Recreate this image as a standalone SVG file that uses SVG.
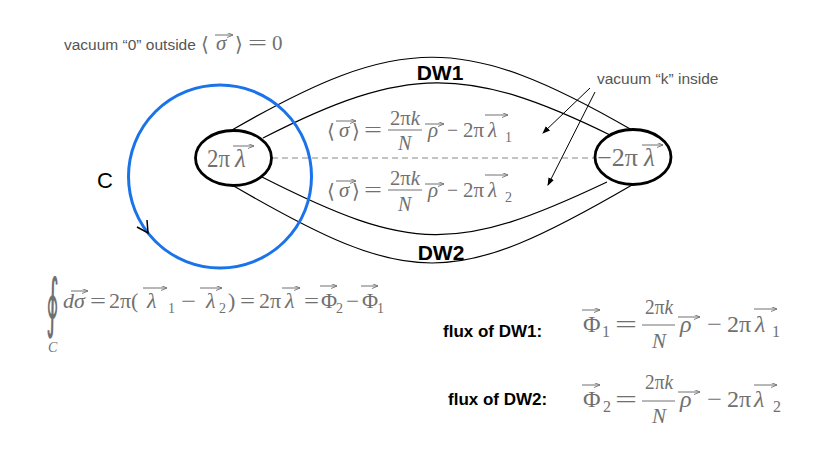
<svg xmlns="http://www.w3.org/2000/svg" width="830" height="468" viewBox="0 0 830 468">
<style>
.m{font-family:"Liberation Serif","DejaVu Serif",serif;fill:#707070;font-size:21px}
.i{font-style:italic}
.f{font-size:20px}
.s{font-size:14px}
.n25{font-size:25px}
.n22{font-size:22px}
.big{font-size:24px}
.bf{font-size:21px}
.bs{font-size:16px}
.br{font-family:"DejaVu Serif",serif;font-size:20px;fill:#707070}
.lbl{font-family:"Liberation Sans",Arial,sans-serif;fill:#555;font-size:15.5px}
.bold{font-family:"Liberation Sans",Arial,sans-serif;font-weight:bold;fill:#000}
.va{stroke:#707070;stroke-width:1;fill:none;marker-end:url(#vh)}
.bar{stroke:#707070;stroke-width:1}
.wall{fill:none;stroke:#000;stroke-width:1.2}
.node{fill:#fff;stroke:#000;stroke-width:2.8}
</style>
<defs>
<marker id="vh" markerUnits="userSpaceOnUse" markerWidth="6" markerHeight="5" refX="6" refY="2.5" orient="auto"><path d="M0,0 L6,2.5 L0,5" fill="none" stroke="#707070" stroke-width="0.9"/></marker>
<marker id="ah" markerUnits="userSpaceOnUse" markerWidth="8" markerHeight="6" refX="7" refY="3" orient="auto"><path d="M0,0 L8,3 L0,6 z" fill="#000"/></marker>
</defs>
<rect width="830" height="468" fill="#fff"/>

<g id="top-label">
<text class="lbl" x="64" y="50">vacuum “0” outside</text>
<text class="br" x="201" y="51">⟨</text>
<text class="m i" x="216" y="50">σ</text>
<line class="va" x1="215" y1="35" x2="233" y2="35"/>
<text class="br" x="235" y="51">⟩</text>
<text class="m" x="248" y="50" textLength="19" lengthAdjust="spacingAndGlyphs">=</text>
<text class="m" x="272" y="50">0</text>
</g>

<g id="connectors">
<path class="wall" d="M232 130 C400 33 464 33 632 130"/>
<path class="wall" d="M263 138 C406 65 467 65 610 135"/>
<path class="wall" d="M262 177 C412 253 457 253 607 182"/>
<path class="wall" d="M232 185 C411 289 453 289 632 185"/>
<line x1="272" y1="158" x2="595" y2="158" stroke="#888" stroke-width="1" stroke-dasharray="6 4"/>
<line x1="590" y1="88" x2="543" y2="133" stroke="#000" stroke-width="1" marker-end="url(#ah)"/>
<line x1="595" y1="92" x2="548" y2="185" stroke="#000" stroke-width="1" marker-end="url(#ah)"/>
</g>

<g id="dw-labels">
<text class="bold" x="440" y="80" font-size="21" text-anchor="middle">DW1</text>
<text class="bold" x="441" y="260" font-size="21" text-anchor="middle">DW2</text>
</g>

<g id="left-node">
<ellipse class="node" cx="233.5" cy="158" rx="38" ry="27.5"/>
<text class="m n25" x="207" y="167" textLength="23" lengthAdjust="spacingAndGlyphs">2π</text>
<text class="m i n25" x="235" y="167">λ</text>
<line class="va" x1="233" y1="146" x2="254" y2="146"/>
</g>

<g id="right-node">
<ellipse class="node" cx="633" cy="157" rx="38" ry="27.5"/>
<text class="m n25" x="597" y="166" textLength="41" lengthAdjust="spacingAndGlyphs">−2π</text>
<text class="m i n25" x="644" y="166">λ</text>
<line class="va" x1="642" y1="145" x2="663" y2="145"/>
</g>

<g id="loop-C">
<circle cx="220" cy="176.5" r="91.5" fill="none" stroke="#1a73e8" stroke-width="3"/>
<path d="M137 227 L148 233 L147 220" fill="none" stroke="#000" stroke-width="1.5"/>
<text x="97" y="188" font-family="Liberation Sans,Arial,sans-serif" font-size="22" fill="#000">C</text>
</g>

<g id="vacuum-k">
<text class="lbl" x="597" y="84">vacuum “k” inside</text>
</g>

<g id="eq-inside-1">
<text class="br" x="327" y="138">⟨</text>
<text class="m i" x="339" y="137">σ</text>
<line class="va" x1="336" y1="121" x2="356" y2="121"/>
<text class="br" x="352" y="138">⟩</text>
<text class="m" x="364" y="137" textLength="18" lengthAdjust="spacingAndGlyphs">=</text>
<text class="m f" x="390" y="125" textLength="30" lengthAdjust="spacingAndGlyphs">2π<tspan class="i">k</tspan></text>
<line class="bar" x1="388" y1="130" x2="422" y2="130"/>
<text class="m f i" x="398" y="150">N</text>
<text class="m i" x="428" y="137">ρ</text>
<line class="va" x1="425" y1="124" x2="444" y2="124"/>
<text class="m" x="447" y="137" textLength="11" lengthAdjust="spacingAndGlyphs">−</text>
<text class="m" x="463" y="137" textLength="21" lengthAdjust="spacingAndGlyphs">2π</text>
<text class="m i" x="488" y="137">λ</text>
<line class="va" x1="485" y1="115" x2="508" y2="115"/>
<text class="m s" x="505" y="142">1</text>
</g>

<g id="eq-inside-2">
<text class="br" x="327" y="198">⟨</text>
<text class="m i" x="339" y="197">σ</text>
<line class="va" x1="336" y1="181" x2="356" y2="181"/>
<text class="br" x="352" y="198">⟩</text>
<text class="m" x="364" y="197" textLength="18" lengthAdjust="spacingAndGlyphs">=</text>
<text class="m f" x="390" y="185" textLength="30" lengthAdjust="spacingAndGlyphs">2π<tspan class="i">k</tspan></text>
<line class="bar" x1="388" y1="190" x2="422" y2="190"/>
<text class="m f i" x="398" y="211">N</text>
<text class="m i" x="428" y="197">ρ</text>
<line class="va" x1="425" y1="184" x2="444" y2="184"/>
<text class="m" x="447" y="197" textLength="11" lengthAdjust="spacingAndGlyphs">−</text>
<text class="m" x="463" y="197" textLength="21" lengthAdjust="spacingAndGlyphs">2π</text>
<text class="m i" x="488" y="197">λ</text>
<line class="va" x1="485" y1="175" x2="508" y2="175"/>
<text class="m s" x="505" y="202">2</text>
</g>

<g id="eq-loop">
<text font-family="DejaVu Serif,serif" font-size="25" fill="#707070" transform="translate(46 325) scale(1 2.6)" x="0" y="0">∮</text>
<text class="m i s" x="48" y="352">C</text>
<text class="m i n22" x="63" y="308">d</text>
<text class="m i n22" x="74" y="308">σ</text>
<line class="va" x1="71" y1="291" x2="88" y2="291"/>
<text class="m" x="90" y="308" textLength="16" lengthAdjust="spacingAndGlyphs">=</text>
<text class="m n22" x="109" y="308">2π(</text>
<text class="m i n22" x="147" y="308">λ</text>
<line class="va" x1="143" y1="288" x2="167" y2="288"/>
<text class="m s" x="168" y="313">1</text>
<text class="m" x="181" y="308" textLength="15" lengthAdjust="spacingAndGlyphs">−</text>
<text class="m i n22" x="206" y="308">λ</text>
<line class="va" x1="200" y1="288" x2="222" y2="288"/>
<text class="m s" x="219" y="313">2</text>
<text class="m n22" x="228" y="308">)</text>
<text class="m" x="240" y="308" textLength="15" lengthAdjust="spacingAndGlyphs">=</text>
<text class="m n22" x="259" y="308">2π</text>
<text class="m i n22" x="285" y="308">λ</text>
<line class="va" x1="282" y1="288" x2="300" y2="288"/>
<text class="m" x="304" y="308" textLength="15" lengthAdjust="spacingAndGlyphs">=</text>
<text class="m n22" x="321" y="308">Φ</text>
<line class="va" x1="320" y1="286" x2="337" y2="286"/>
<text class="m s" x="336" y="313">2</text>
<text class="m" x="346" y="308" textLength="13" lengthAdjust="spacingAndGlyphs">−</text>
<text class="m n22" x="362" y="308">Φ</text>
<line class="va" x1="361" y1="286" x2="378" y2="286"/>
<text class="m s" x="377" y="313">1</text>
</g>

<g id="flux-1">
<text class="bold" x="443" y="337" font-size="17">flux of DW1:</text>
<text class="m big" x="583" y="332">Φ</text>
<line class="va" x1="582" y1="310" x2="600" y2="310"/>
<text class="m bs" x="602" y="337">1</text>
<text class="m big" x="615" y="332" textLength="22" lengthAdjust="spacingAndGlyphs">=</text>
<text class="m bf" x="645" y="314" textLength="28" lengthAdjust="spacingAndGlyphs">2π<tspan class="i">k</tspan></text>
<line class="bar" x1="642" y1="325" x2="675" y2="325"/>
<text class="m bf i" x="652" y="348">N</text>
<text class="m big i" x="680" y="332">ρ</text>
<line class="va" x1="678" y1="317" x2="700" y2="317"/>
<text class="m big" x="707" y="332" textLength="15" lengthAdjust="spacingAndGlyphs">−</text>
<text class="m big" x="727" y="332">2π</text>
<text class="m big i" x="755" y="332">λ</text>
<line class="va" x1="754" y1="309" x2="777" y2="309"/>
<text class="m bs" x="772" y="337">1</text>
</g>

<g id="flux-2">
<text class="bold" x="448" y="405" font-size="17">flux of DW2:</text>
<text class="m big" x="583" y="407">Φ</text>
<line class="va" x1="582" y1="385" x2="600" y2="385"/>
<text class="m bs" x="603" y="412">2</text>
<text class="m big" x="615" y="407" textLength="22" lengthAdjust="spacingAndGlyphs">=</text>
<text class="m bf" x="645" y="389" textLength="28" lengthAdjust="spacingAndGlyphs">2π<tspan class="i">k</tspan></text>
<line class="bar" x1="642" y1="401" x2="675" y2="401"/>
<text class="m bf i" x="652" y="423">N</text>
<text class="m big i" x="680" y="407">ρ</text>
<line class="va" x1="678" y1="392" x2="700" y2="392"/>
<text class="m big" x="707" y="407" textLength="15" lengthAdjust="spacingAndGlyphs">−</text>
<text class="m big" x="727" y="407">2π</text>
<text class="m big i" x="754" y="407">λ</text>
<line class="va" x1="754" y1="385" x2="777" y2="385"/>
<text class="m bs" x="773" y="412">2</text>
</g>
</svg>
